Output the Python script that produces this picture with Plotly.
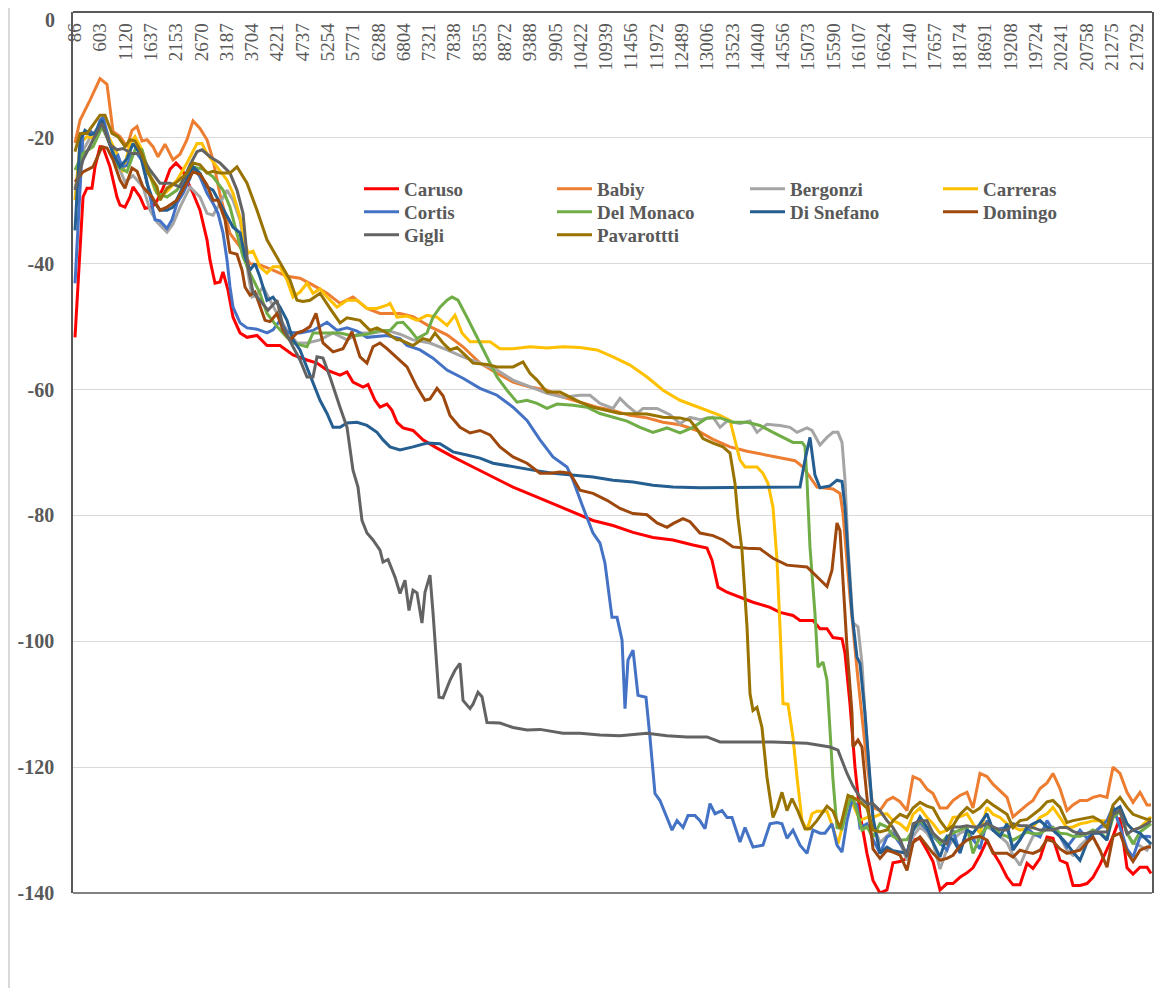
import plotly.graph_objects as go

# ---------------- data ----------------
FREQ_TICKS = [86, 603, 1120, 1637, 2153, 2670, 3187, 3704, 4221, 4737, 5254, 5771, 6288, 6804,
              7321, 7838, 8355, 8872, 9388, 9905, 10422, 10939, 11456, 11972, 12489, 13006, 13523,
              14040, 14556, 15073, 15590, 16107, 16624, 17140, 17657, 18174, 18691, 19208, 19724,
              20241, 20758, 21275, 21792]
DB_TICKS = [0, -20, -40, -60, -80, -100, -120, -140]

# shared frequency grid of the noise-floor region (Hz)
NOISE_FREQ = [16397, 16540, 16683, 16806, 16949, 17092, 17215, 17358, 17501, 17624, 17767, 17910,
              18032, 18175, 18318, 18441, 18584, 18727, 18850, 18993, 19136, 19259, 19402, 19545,
              19667, 19811, 19954, 20076, 20219, 20362, 20485, 20628, 20771, 20894, 21037, 21180,
              21303, 21446, 21589, 21712, 21855, 21998, 22080]

# (frequency Hz, level dB) before the noise floor
caruso = [(86, -51.7), (250, -29.4), (331, -28), (433, -28), (495, -24.6), (597, -21.4), (658, -21.5),
          (801, -24.6), (944, -29.4), (1006, -30.7), (1108, -31), (1210, -29.4), (1272, -27.8),
          (1415, -29.4), (1517, -31.2), (1660, -31), (1762, -30), (1885, -28), (2028, -25), (2150, -24),
          (2273, -25), (2375, -26.7), (2498, -28.8), (2641, -31.5), (2784, -36.2), (2845, -39.4),
          (2948, -43.1), (3050, -42.9), (3111, -41.3), (3213, -44.2), (3316, -48.5), (3459, -51),
          (3602, -51.7), (3806, -51.4), (4010, -53), (4276, -53), (4542, -54.5), (4828, -55.3),
          (5032, -55.8), (5237, -56.9), (5503, -57.7), (5646, -57.2), (5768, -58.8), (5973, -59.6),
          (6075, -59.2), (6218, -61.7), (6320, -62.8), (6463, -62.3), (6565, -63.3), (6668, -65.2),
          (6790, -66.1), (6995, -66.5), (7199, -68), (7485, -69.3), (7812, -70.7), (8221, -72.3),
          (8630, -73.9), (9039, -75.5), (9447, -76.8), (9856, -78.1), (10265, -79.5), (10674, -80.8),
          (11083, -81.6), (11492, -82.7), (11900, -83.5), (12309, -83.9), (12718, -84.7), (13004, -85.2),
          (13106, -87.1), (13229, -91.4), (13413, -92.2), (13679, -93), (13944, -93.8), (14292, -94.6),
          (14496, -95.4), (14762, -95.9), (14905, -96.7), (15171, -96.7), (15314, -98), (15457, -98),
          (15579, -99.4), (15764, -99.6), (15825, -101.9), (15927, -110), (16029, -120), (16131, -127.4),
          (16274, -133.7)]
babiy = [(86, -20.8), (188, -17.2), (393, -14), (597, -10.6), (740, -11.5), (863, -19), (1006, -19.8),
         (1149, -21.4), (1251, -18.8), (1353, -18.2), (1455, -20.5), (1558, -20.3), (1680, -21.4),
         (1783, -23), (1926, -21), (2089, -23.5), (2232, -22.6), (2375, -20.3), (2498, -17.3),
         (2641, -18.5), (2784, -20.3), (2907, -23.5), (3050, -29), (3254, -35.2), (3459, -37.3),
         (3663, -40), (3867, -40.2), (4133, -41), (4419, -42), (4685, -42.3), (4951, -43.4),
         (5237, -44.7), (5503, -46.3), (5768, -45.3), (6054, -47.1), (6320, -47.9), (6729, -47.9),
         (6995, -48.4), (7342, -50), (7690, -51.3), (8017, -53.2), (8364, -55.8), (8712, -57.4),
         (9039, -58.8), (9386, -59.6), (9734, -60.1), (10060, -61.2), (10408, -62), (10755, -62.8),
         (11083, -63.3), (11430, -64.1), (11778, -64.5), (12105, -65.2), (12452, -65.6), (12800, -66.5),
         (13127, -67.9), (13474, -69.1), (13822, -69.8), (14148, -70.3), (14496, -70.8), (14803, -71.3),
         (14966, -72.3), (15109, -73.9), (15252, -75.5), (15579, -75.8), (15723, -76.5), (15784, -79.7),
         (15927, -93), (16090, -106), (16274, -119.4)]
bergonzi = [(86, -28), (250, -22), (393, -20), (638, -17.5), (801, -21), (944, -24), (1108, -27),
            (1272, -26), (1476, -27.8), (1619, -31.5), (1762, -33.4), (1966, -35), (2089, -33.7),
            (2232, -31), (2437, -27.8), (2641, -29.4), (2784, -32), (2907, -32.3), (3050, -30.4),
            (3193, -28.3), (3316, -29.9), (3459, -33), (3561, -37.8), (3622, -41.5), (3704, -45.3),
            (3806, -45), (3929, -43.7), (4072, -45.8), (4215, -47.9), (4419, -50.6), (4624, -52.6),
            (4828, -52.6), (5094, -52.1), (5360, -51), (5646, -52.1), (5911, -51), (6177, -51),
            (6463, -50.6), (6729, -51.2), (6995, -52.1), (7342, -52.6), (7690, -53.7), (8017, -54.8),
            (8364, -55.8), (8712, -56.9), (9039, -58.5), (9386, -59.6), (9734, -60.6), (10060, -61.2),
            (10408, -60.9), (10612, -60.9), (10817, -62.2), (11083, -63), (11226, -61.4), (11369, -62.5),
            (11573, -63.8), (11696, -63), (11982, -63), (12248, -64), (12452, -65.4), (12657, -64.4),
            (12861, -64.8), (13127, -64.4), (13270, -66), (13413, -65), (13679, -65.4), (13883, -65),
            (14026, -66.8), (14230, -65.5), (14496, -65.7), (14701, -66), (14844, -66.8), (15048, -66.1),
            (15150, -66.5), (15314, -68.8), (15457, -67.6), (15579, -66.8), (15681, -66.8), (15764, -68.4),
            (15825, -74.4), (15886, -85), (15988, -97.1), (16090, -97.7), (16172, -103.5), (16233, -111.4),
            (16336, -122)]
carreras = [(86, -29.9), (188, -20.9), (331, -19.8), (454, -20), (638, -17.2), (801, -20.3), (944, -22.5),
            (1067, -25.4), (1210, -20.9), (1312, -19.8), (1455, -21.9), (1578, -25.1), (1721, -28.3),
            (1823, -29.4), (1966, -28.5), (2171, -26.7), (2375, -24), (2580, -20.9), (2682, -20.9),
            (2784, -22.5), (2988, -24.6), (3193, -26.7), (3316, -28.8), (3459, -32.6), (3561, -36.7),
            (3622, -38.3), (3724, -38), (3867, -40.5), (4010, -41.5), (4133, -40.5), (4276, -40.5),
            (4419, -42.6), (4542, -45.3), (4685, -44.5), (4828, -43.1), (4951, -44.7), (5094, -44),
            (5237, -45.3), (5441, -46.9), (5646, -45.8), (5850, -45.8), (6054, -47.1), (6259, -47.1),
            (6463, -46.6), (6525, -46.3), (6668, -48.5), (6872, -48.3), (7076, -49), (7281, -48.2),
            (7485, -48.5), (7690, -49.8), (7853, -48.2), (7996, -51), (8160, -52.4), (8569, -52.4),
            (8773, -53.5), (9039, -53.5), (9386, -53.2), (9734, -53.4), (10060, -53.2), (10408, -53.3),
            (10755, -53.7), (11083, -54.8), (11430, -56.1), (11778, -58), (12105, -60.1), (12452, -61.7),
            (12718, -62.5), (13004, -63.3), (13270, -64.1), (13474, -64.9), (13576, -68), (13679, -71.2),
            (13781, -72.3), (14026, -72.3), (14148, -73.3), (14250, -74.9), (14353, -78.7), (14435, -87.1),
            (14496, -97.7), (14558, -109.9), (14660, -110), (14762, -115.3), (14844, -121.6), (14946, -128.5),
            (15048, -130), (15150, -127.4), (15252, -127), (15457, -127), (15579, -129.6), (15681, -132.2),
            (15784, -129), (15927, -124.8), (16131, -128.5), (16274, -128)]
cortis = [(86, -43.1), (250, -19.3), (393, -18.9), (495, -19.5), (597, -17.2), (658, -16.7), (801, -20.9),
          (904, -23.3), (965, -22.8), (1047, -24.6), (1149, -24.4), (1251, -22.5), (1353, -22.5),
          (1476, -23.8), (1578, -27.8), (1721, -33), (1823, -33.2), (1966, -34.4), (2069, -33),
          (2171, -30.4), (2294, -28.8), (2437, -26.4), (2498, -24.6), (2641, -26.2), (2784, -28.8),
          (2907, -30.4), (3009, -32), (3111, -35.1), (3193, -39.4), (3254, -43.7), (3316, -46.9),
          (3459, -49.4), (3602, -50.2), (3806, -50.4), (4010, -51), (4133, -50.5), (4276, -49),
          (4419, -50.9), (4685, -51), (4951, -50.6), (5237, -49.3), (5441, -50.6), (5646, -50.2),
          (5850, -50.7), (6054, -51.7), (6463, -51.4), (6729, -51.9), (6872, -53), (7138, -53.7),
          (7404, -55), (7690, -56.9), (8017, -58.2), (8364, -59.8), (8712, -60.9), (9039, -62.8),
          (9325, -64.9), (9591, -68), (9856, -70.7), (10142, -72.3), (10265, -74.4), (10469, -78.7),
          (10674, -82.8), (10817, -84.4), (10919, -87.6), (11062, -96.2), (11165, -96.2), (11267, -99.8),
          (11328, -110.7), (11389, -103), (11492, -101.4), (11594, -108.6), (11757, -108.9),
          (11839, -115.3), (11941, -124.2), (12043, -125.3), (12186, -128), (12289, -130), (12391, -128.5),
          (12514, -129.6), (12616, -127.7), (12759, -127.7), (12861, -128.5), (12963, -129.8),
          (13065, -125.8), (13168, -127.4), (13311, -126.9), (13413, -128), (13515, -128), (13679, -131.9),
          (13781, -129.6), (13944, -132.7), (14148, -132.4), (14292, -129), (14435, -128.8), (14537, -129),
          (14639, -131.3), (14762, -130), (14905, -132.4), (15048, -133.7), (15171, -130), (15314, -130.5),
          (15416, -130.5), (15559, -129), (15661, -132.4), (15764, -133.5), (15866, -128.5),
          (15968, -125.3), (16070, -126), (16131, -129.6), (16274, -129)]
del_monaco = [(86, -25.1), (250, -22.5), (454, -21.4), (638, -18.3), (801, -20.9), (965, -24.6),
              (1149, -25.4), (1312, -21.9), (1455, -21.9), (1578, -25.1), (1762, -28.8), (1966, -29.4),
              (2171, -28.3), (2375, -25.6), (2498, -24.6), (2702, -25), (2907, -26.2), (3111, -28.3),
              (3254, -31), (3397, -35.1), (3520, -38.9), (3663, -41.5), (3867, -44.7), (4010, -47.9),
              (4215, -50), (4419, -51.7), (4542, -52.6), (4828, -53.2), (4951, -51), (5237, -51),
              (5503, -51), (5768, -51.5), (6054, -51.2), (6320, -50.6), (6525, -50.6), (6668, -49.4),
              (6790, -49.3), (6933, -50.5), (7076, -51.9), (7281, -51), (7404, -48.5), (7547, -46.9),
              (7690, -45.8), (7792, -45.3), (7915, -45.8), (8098, -48.5), (8303, -51.7), (8507, -54.8),
              (8712, -58), (8916, -60.1), (9120, -62), (9325, -61.7), (9529, -62.2), (9734, -63),
              (9938, -62.3), (10265, -62.5), (10551, -62.8), (10817, -63.8), (11083, -64.4), (11369, -65),
              (11635, -66), (11900, -66.8), (12186, -66.1), (12452, -66.9), (12718, -66), (13004, -64.5),
              (13270, -64.5), (13535, -65.2), (13822, -65.2), (14087, -65.7), (14353, -66.8), (14558, -67.6),
              (14762, -68.4), (14946, -68.4), (15007, -69), (15048, -74.4), (15109, -85), (15211, -95.6),
              (15273, -104.1), (15375, -103.3), (15457, -106.2), (15518, -114.1), (15579, -122),
              (15661, -129.6), (15764, -129.8), (15866, -126.4), (15968, -124.5), (16070, -127),
              (16172, -130), (16274, -129.5)]
di_snefano = [(86, -34.7), (188, -20.3), (290, -18.8), (393, -19.5), (495, -19.3), (638, -17.2), (740, -19.8),
              (863, -22.5), (1006, -24.6), (1149, -23.3), (1272, -20.9), (1415, -22.5), (1558, -27.2),
              (1680, -29.9), (1823, -31.5), (1966, -31.5), (2089, -31), (2232, -28.8), (2375, -26.7),
              (2498, -24.6), (2641, -25.6), (2784, -27.8), (2907, -28.3), (3050, -30.4), (3193, -32.6),
              (3316, -34.2), (3459, -35.1), (3561, -38.9), (3663, -41), (3765, -40), (3867, -42.1),
              (4010, -45.8), (4133, -45.3), (4276, -46.9), (4419, -49), (4542, -52.1), (4685, -53.7),
              (4828, -56.4), (4951, -59), (5094, -61.7), (5237, -63.8), (5360, -66), (5503, -66),
              (5646, -65.3), (5850, -65.2), (6054, -65.7), (6259, -66.8), (6382, -68), (6525, -69.1),
              (6729, -69.6), (6995, -69.1), (7281, -68.5), (7547, -68.6), (7812, -69.9), (8098, -70.4),
              (8364, -70.9), (8630, -71.7), (9039, -72.3), (9447, -72.8), (9856, -73.3), (10265, -73.6),
              (10674, -73.9), (11083, -74.4), (11492, -74.7), (11900, -75.2), (12309, -75.5), (12861, -75.6),
              (13679, -75.6), (14496, -75.5), (14905, -75.5), (15007, -71.2), (15109, -67.6), (15211, -73.6),
              (15314, -75.6), (15518, -75.3), (15661, -74.4), (15764, -74.6), (15825, -78.7), (15886, -86),
              (15968, -95.6), (16070, -102.5), (16131, -103.5), (16233, -111.4), (16336, -122)]
domingo = [(86, -27), (250, -25.4), (454, -24.6), (638, -21.4), (740, -21.6), (863, -23.5), (1006, -26.7),
           (1108, -28), (1251, -24.8), (1353, -25.3), (1476, -27.8), (1660, -29.4), (1823, -31.5),
           (1966, -31), (2171, -29.9), (2375, -27.2), (2498, -25.4), (2641, -25.8), (2784, -27.5),
           (2907, -29.9), (3009, -29.9), (3152, -33), (3254, -38.2), (3397, -38.5), (3500, -41),
           (3561, -43.7), (3663, -45), (3765, -44.5), (3867, -46.9), (3970, -49), (4072, -49.2),
           (4215, -47.9), (4338, -50.6), (4481, -52.1), (4624, -51), (4746, -50.7), (4889, -50),
           (5012, -47.9), (5155, -52.6), (5360, -54), (5564, -53.5), (5748, -50.8), (5911, -54.8),
           (6054, -55.8), (6177, -53.2), (6320, -52.6), (6463, -53.5), (6668, -55), (6872, -56.4),
           (7076, -59.6), (7240, -61.7), (7342, -61.5), (7485, -59.8), (7608, -61), (7751, -64.1),
           (7955, -66), (8160, -66.9), (8364, -66.5), (8569, -67.2), (8773, -69.1), (9039, -70.7),
           (9325, -71.7), (9591, -73.3), (9795, -73.3), (9999, -73.1), (10204, -73.3), (10408, -76),
           (10674, -76.5), (10960, -77.6), (11226, -78.9), (11492, -79.7), (11778, -79.9), (11982, -81.2),
           (12186, -81.9), (12309, -81.3), (12514, -80.5), (12657, -81), (12861, -82.8), (13127, -83.2),
           (13331, -83.9), (13535, -85), (13822, -85.2), (14087, -85.3), (14353, -86.8), (14639, -87.9),
           (15048, -88.2), (15252, -89.8), (15457, -91.3), (15559, -88.7), (15661, -81.2), (15723, -82.4),
           (15784, -90.3), (15866, -101), (15968, -111.4), (15988, -116.8), (16090, -115.7),
           (16172, -116.8), (16274, -124.8)]
gigli = [(86, -28.3), (250, -23.5), (454, -20.3), (638, -17.7), (801, -21.1), (944, -21.9), (1067, -21.7),
         (1251, -22.5), (1415, -22.5), (1619, -25.1), (1823, -27.2), (2028, -27.2), (2232, -27.8),
         (2437, -24.3), (2580, -22.2), (2682, -21.9), (2845, -23), (3050, -24), (3254, -25.6),
         (3397, -28.3), (3520, -32), (3622, -40.5), (3724, -44.5), (3867, -45.8), (4031, -47.4),
         (4215, -45.8), (4338, -50), (4542, -53.2), (4685, -55.3), (4828, -58), (4951, -58),
         (5032, -54.8), (5155, -55), (5298, -58), (5360, -59.5), (5503, -62.8), (5646, -66),
         (5707, -69.2), (5768, -72.8), (5870, -75.5), (5952, -80.8), (6054, -82.8), (6177, -83.9),
         (6320, -85.5), (6382, -87.4), (6484, -87), (6627, -89.8), (6729, -92.4), (6831, -90.3),
         (6913, -95.1), (6995, -91.9), (7076, -92.3), (7178, -97.1), (7240, -92.2), (7342, -89.5),
         (7404, -95.5), (7485, -104.1), (7526, -108.9), (7608, -109), (7751, -106.2), (7853, -104.6),
         (7955, -103.5), (8017, -109.4), (8160, -110.7), (8221, -110), (8323, -108.1), (8405, -108.8),
         (8507, -112.9), (8773, -113), (9039, -113.7), (9325, -114.1), (9591, -114), (10060, -114.6),
         (10408, -114.6), (10817, -114.9), (11226, -115), (11778, -114.6), (12186, -115), (12595, -115.2),
         (13004, -115.2), (13270, -116), (13679, -116), (14353, -116), (15048, -116.2), (15518, -116.8),
         (15681, -117.3), (15866, -121), (15988, -123), (16131, -124.8), (16274, -125.8)]
pavarottti = [(86, -22.2), (188, -19.3), (331, -19.3), (454, -18), (597, -16.4), (699, -16.4), (842, -19.3),
              (965, -19.8), (1108, -21.4), (1210, -20.3), (1312, -20.5), (1455, -22.5), (1578, -25.6),
              (1762, -27.8), (1823, -29.9), (1966, -28), (2171, -27), (2375, -25.6), (2498, -24),
              (2641, -24.3), (2784, -25.6), (2907, -25.3), (3050, -25.6), (3254, -25.6), (3397, -24.6),
              (3602, -27.2), (3806, -31.5), (4010, -36.2), (4215, -38.9), (4338, -40.5), (4481, -42.6),
              (4624, -45.8), (4746, -46), (4889, -45.8), (5094, -44.7), (5298, -47.1), (5503, -49.4),
              (5646, -48.6), (5911, -49), (6116, -50.6), (6259, -50.2), (6463, -51), (6668, -52.1),
              (6729, -52.1), (6995, -53), (7199, -51.9), (7342, -52.2), (7444, -51), (7608, -52.6),
              (7751, -53.7), (7894, -53.3), (8098, -54.8), (8221, -55.8), (8507, -56), (8712, -56.4),
              (9039, -56.4), (9243, -55.6), (9386, -57.4), (9529, -58.5), (9734, -60.4), (9999, -60.4),
              (10204, -61.2), (10408, -62), (10674, -62.8), (10960, -63.3), (11226, -63.8), (11778, -63.9),
              (12105, -64.4), (12452, -64.5), (12657, -64.9), (12800, -66.3), (12922, -67.8), (13127, -68.5),
              (13331, -69.1), (13474, -70.1), (13576, -74.9), (13637, -80.3), (13719, -85.5), (13822, -97.7),
              (13883, -108.3), (13944, -111), (14026, -110.5), (14128, -113.7), (14230, -121.6), (14353, -128),
              (14435, -126.5), (14537, -124), (14639, -126.9), (14742, -125), (14864, -127), (15007, -129.8),
              (15109, -129.8), (15252, -128.5), (15457, -126.2), (15579, -127), (15723, -129.7),
              (15886, -124.5), (16029, -125), (16131, -125.5), (16274, -126.5)]

# noise-floor levels (dB) on NOISE_FREQ
caruso_noise = [-138, -140, -139.5, -135.2, -135, -134.5, -131.6, -131.3, -133.2, -135,
                -139.5, -138.5, -138.5, -137.5, -136.8, -136, -134, -131.6, -133.5, -135.3,
                -137.5, -138.7, -138.7, -135.3, -136.1, -134.5, -131.1, -131.3, -134.8, -135.3,
                -138.8, -138.8, -138.5, -137.5, -135.5, -133, -131, -128, -136, -137,
                -135.9, -135.9, -136.9]
babiy_noise = [-126.4, -126.9, -125.3, -124.8, -125.5, -126.9, -121.5, -122, -123.5, -124.2,
               -126.5, -126.5, -125.3, -124.5, -124, -126.5, -121, -121.5, -122.7, -123.8,
               -124.8, -127.9, -126.9, -126, -125.3, -123.4, -122.5, -121, -123.4, -126.9,
               -126, -125.3, -125.3, -124.8, -124.5, -124.8, -120, -121, -124, -125.6,
               -124, -126, -126]
bergonzi_noise = [-129, -132, -131, -130, -132, -134.8, -131, -129.5, -130.5, -132,
                  -136.2, -133, -131.5, -130.5, -130, -131.5, -131, -129.5, -130, -131,
                  -132, -134, -135.6, -133, -131, -130.5, -129.5, -129.5, -131, -133.2,
                  -134, -132.5, -131.5, -130.5, -129.5, -129.5, -128, -127, -130.5, -132,
                  -132.5, -133.2, -132]
carreras_noise = [-128, -127.5, -127.4, -128.5, -129, -130, -127.5, -126.5, -128, -129,
                  -130.5, -130, -128, -127.9, -127.4, -129, -130.5, -126.4, -127.5, -128,
                  -129, -129.5, -130, -129.8, -129.6, -128, -127.4, -126.4, -128, -129.6,
                  -129.5, -129, -128.8, -128.5, -128.5, -128.5, -127, -126.4, -129, -130,
                  -129.6, -128.5, -127.9]
cortis_noise = [-131.5, -133.7, -131.1, -130.6, -132.2, -133.7, -130, -128.8, -130, -131,
                -132.2, -133.2, -130, -133.7, -130, -131.5, -133, -128.5, -130, -129.8,
                -129.6, -132.8, -131.6, -129.6, -130.5, -131.1, -128.5, -130, -131, -132.7,
                -131.5, -130, -131.3, -130.5, -129.6, -128.5, -126.3, -129.5, -133, -134.3,
                -131.1, -131, -131.1]
del_monaco_noise = [-131.1, -129, -129.5, -131, -131.6, -131.5, -130, -128.5, -129.5, -130.5,
                    -132.2, -131, -130.5, -130, -129.5, -133.7, -131, -129.5, -129.5, -130.6,
                    -131, -131.6, -131, -130.3, -130.6, -130.6, -129.8, -129.6, -130.5, -130.6,
                    -131, -131, -130.6, -130, -130.5, -131.3, -128, -127, -130.5, -132.2,
                    -130.3, -129.5, -129]
di_snefano_noise = [-128, -133.7, -132.7, -133.3, -133.5, -133.7, -130, -127.9, -129.6, -132,
                    -134.3, -131, -131.5, -133.5, -130, -130.5, -129, -127.4, -130, -131,
                    -129, -133.2, -131.5, -129.6, -129, -128.5, -129.5, -130, -131, -132.2,
                    -133.5, -134.8, -132, -130.5, -130.5, -131.6, -127, -126.3, -129, -130,
                    -130.5, -131.5, -132.2]
domingo_noise = [-133, -134.5, -133.2, -133.5, -134, -136.4, -132, -131.1, -132.5, -133.7,
                 -134.8, -134.5, -134, -132.5, -131.6, -131.2, -131, -131.6, -133.7, -133.7,
                 -133.7, -134.3, -133.2, -133.5, -133.7, -133.2, -131.5, -131.8, -133, -133.7,
                 -133.5, -133.2, -132, -131.1, -133.2, -135.9, -131, -130.5, -133.5, -135,
                 -133.2, -132.7, -132.7]
gigli_noise = [-125.8, -126.9, -128.5, -129.6, -131.5, -134.3, -129, -128.5, -128.5, -130.5,
               -131.5, -132.2, -129.5, -129.5, -129.3, -129.5, -129.5, -128.9, -129.5, -130,
               -130, -129, -129.3, -129.3, -129.6, -130, -130, -130, -129.6, -129.6,
               -130.2, -130.6, -130.5, -130.3, -130.3, -130.3, -127.5, -126.9, -130.6, -130,
               -129.6, -129, -128.5]
pavarottti_noise = [-130, -130.3, -130, -128.5, -127.5, -128, -126.5, -125.6, -126.2, -126.5,
                    -128.5, -130, -129.3, -127.5, -126.4, -127.2, -126.5, -125.3, -126, -126.8,
                    -127.5, -129.6, -128.5, -128.3, -127.5, -126.7, -125.5, -125.3, -126.4, -128.8,
                    -128.5, -128.3, -128, -127.9, -128.5, -129.6, -126, -124.8, -126.4, -127.5,
                    -127.9, -128.3, -128.3]

SERIES = [
    ("Caruso", "#FF0000", caruso, caruso_noise),
    ("Babiy", "#ED7D31", babiy, babiy_noise),
    ("Bergonzi", "#A5A5A5", bergonzi, bergonzi_noise),
    ("Carreras", "#FFC000", carreras, carreras_noise),
    ("Cortis", "#4472C4", cortis, cortis_noise),
    ("Del Monaco", "#70AD47", del_monaco, del_monaco_noise),
    ("Di Snefano", "#255E91", di_snefano, di_snefano_noise),
    ("Domingo", "#9E480E", domingo, domingo_noise),
    ("Gigli", "#636363", gigli, gigli_noise),
    ("Pavarottti", "#997300", pavarottti, pavarottti_noise),
]

# ---------------- figure ----------------
FONT = "Liberation Serif, Times New Roman, serif"
TXT = "#595959"

fig = go.Figure()
legend_of = ["legend"] * 4 + ["legend2"] * 4 + ["legend3"] * 2
for i, (name, color, main, noise) in enumerate(SERIES):
    xs = [p[0] for p in main] + NOISE_FREQ
    ys = [p[1] for p in main] + list(noise)
    fig.add_trace(go.Scatter(x=xs, y=ys, mode="lines", name=name,
                             line=dict(color=color, width=3),
                             legend=legend_of[i]))

# the page body adds an 8 px margin on every side; size the figure to fit inside it
OFF = 8
W, H = 1164 - 2 * OFF, 996 - 2 * OFF
L, T = 73 - OFF, 12 - OFF
R = W - (1152 - OFF)
B = H - (893 - OFF)
pw, ph = W - L - R, H - T - B

def py2paper(page_y):
    return 1 - (page_y - OFF - T) / ph

def px2paper(page_x):
    return (page_x - OFF - L) / pw

leg_common = dict(orientation="h", xanchor="left", yanchor="middle", x=px2paper(359),
                  entrywidth=143, entrywidthmode="pixels", itemwidth=35,
                  bgcolor="rgba(0,0,0,0)", borderwidth=0,
                  font=dict(family=FONT, size=19, color=TXT, weight="bold"))

ytick_font = dict(family=FONT, size=20, color=TXT, weight="bold")
# the top value label sits at the very edge of the page, so it is drawn as an
# annotation kept just inside the figure; the others are normal tick labels
top_label = str(DB_TICKS[0])

fig.update_layout(
    width=W, height=H,
    margin=dict(l=L, r=R, t=T, b=B, pad=0, autoexpand=False),
    paper_bgcolor="white", plot_bgcolor="white",
    showlegend=True,
    legend=dict(leg_common, y=py2paper(189)),
    legend2=dict(leg_common, y=py2paper(212)),
    legend3=dict(leg_common, y=py2paper(235)),
    xaxis=dict(range=[45, 22100], side="bottom", anchor="free", position=1,
               tickmode="array", tickvals=FREQ_TICKS,
               ticktext=[str(v) for v in FREQ_TICKS], tickangle=-90,
               ticklabelstandoff=3, automargin=False, ticklabeloverflow="allow",
               tickfont=dict(family=FONT, size=19, color=TXT),
               showgrid=False, zeroline=False, ticks="",
               showline=True, linecolor="#595959", linewidth=1.5),
    yaxis=dict(range=[-140, 0], tickmode="array", tickvals=DB_TICKS,
               ticktext=[""] + [str(v) for v in DB_TICKS[1:]], automargin=False,
               ticklabeloverflow="allow", tickfont=ytick_font,
               ticklabelstandoff=13,
               showgrid=True, gridcolor="#D9D9D9", gridwidth=1,
               zeroline=False, ticks="",
               showline=True, linecolor="#595959", linewidth=1.5, mirror=True),
    annotations=[dict(text=top_label, xref="paper", yref="paper",
                      x=px2paper(56), y=1 + T / ph, xanchor="right", yanchor="top",
                      showarrow=False, borderpad=0, font=ytick_font)],
    shapes=[
        dict(type="line", xref="paper", yref="paper",
             x0=px2paper(9), x1=px2paper(9), y0=-0.2, y1=1.05,
             line=dict(color="#D9D9D9", width=2)),
        dict(type="line", xref="paper", yref="paper", x0=0, x1=1, y0=0, y1=0,
             line=dict(color="#595959", width=1.5)),
    ],
)

fig.write_html("out.html")
